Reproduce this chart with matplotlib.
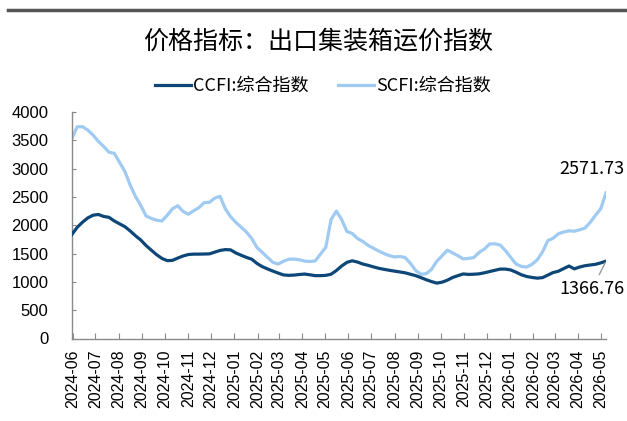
import numpy as np
import matplotlib
matplotlib.use("Agg")
import matplotlib.pyplot as plt
import matplotlib.dates as mdates
from matplotlib.lines import Line2D

plt.rcParams["font.family"] = ["Noto Sans CJK SC", "DejaVu Sans"]

title = "价格指标：出口集装箱运价指数"
series_names = ["CCFI:综合指数", "SCFI:综合指数"]

# weekly readings, 2024-05-31 .. 2026-05-08
dates = np.datetime64("2024-05-31") + np.arange(102) * np.timedelta64(7, "D")

ccfi = [
    1840, 1965, 2055, 2130, 2178, 2190, 2155, 2140, 2075, 2025,
    1975, 1900, 1815, 1740, 1642, 1560, 1480, 1415, 1375, 1380,
    1420, 1457, 1483, 1490, 1490, 1492, 1495, 1525, 1555, 1570,
    1565, 1510, 1470, 1432, 1400, 1325, 1268, 1228, 1190, 1155,
    1123, 1115, 1120, 1130, 1138, 1125, 1110, 1110, 1115, 1135,
    1200, 1280, 1345, 1372, 1350, 1315, 1292, 1265, 1240, 1222,
    1205, 1190, 1175, 1160, 1135, 1110, 1075, 1038, 1005, 978,
    995, 1030, 1078, 1110, 1140, 1132, 1135, 1142, 1160, 1183,
    1205, 1226, 1226, 1210, 1170, 1125, 1095, 1078, 1066, 1075,
    1120, 1165, 1188, 1235, 1280, 1230, 1262, 1285, 1298, 1310,
    1335, 1366.76,
]

scfi = [
    3540, 3740, 3740, 3680, 3590, 3480, 3390, 3290, 3270, 3110,
    2950, 2710, 2510, 2350, 2165, 2120, 2090, 2075, 2175, 2290,
    2345, 2245, 2195, 2255, 2310, 2400, 2405, 2480, 2510, 2290,
    2150, 2050, 1965, 1880, 1765, 1605, 1520, 1430, 1345, 1315,
    1365, 1400, 1403, 1390, 1368, 1360, 1370, 1490, 1610, 2100,
    2250, 2100, 1890, 1855, 1765, 1715, 1645, 1595, 1545, 1500,
    1465, 1440, 1449, 1430, 1330, 1200, 1135, 1145, 1220, 1365,
    1460, 1560, 1510, 1462, 1405, 1415, 1430, 1520, 1580, 1670,
    1672, 1650, 1550, 1430, 1315, 1272, 1262, 1310, 1390, 1530,
    1730, 1770, 1850, 1880, 1902, 1895, 1920, 1948, 2050, 2175,
    2290, 2571.73,
]

y_ticks = np.arange(0, 4001, 500)

dark = "#0d4777"
light = "#9fcaf2"
axis_gray = "#8a8a8a"

fig = plt.figure(figsize=(6.27, 4.21), dpi=100)
ax = fig.add_axes([72 / 627, 82.5 / 421, 534 / 627, 226.5 / 421])

ax.plot(dates, ccfi, color=dark, lw=2.3, label=series_names[0], zorder=3)
ax.plot(dates, scfi, color=light, lw=2.3, label=series_names[1], zorder=2)

ax.set_xlim(dates[0], dates[-1])
ax.set_ylim(0, 4000)
ax.set_yticks(y_ticks)
ax.xaxis.set_major_locator(mdates.MonthLocator())
ax.xaxis.set_major_formatter(mdates.DateFormatter("%Y-%m"))

for s in ["top", "right"]:
    ax.spines[s].set_visible(False)
for s in ["left", "bottom"]:
    ax.spines[s].set_color(axis_gray)
    ax.spines[s].set_linewidth(1.0)

ax.tick_params(axis="y", direction="in", length=3, color=axis_gray, pad=17,
               labelsize=12)
ax.tick_params(axis="x", direction="in", length=4, color=axis_gray, pad=8,
               labelsize=11.5, labelrotation=90)
for lbl in ax.get_xticklabels() + ax.get_yticklabels():
    lbl.set_family(["Liberation Sans", "DejaVu Sans"])

ax.annotate(f"{scfi[-1]:.2f}", xy=(dates[-1], scfi[-1]), xytext=(-10, 17),
            textcoords="offset points", ha="center", va="center", fontsize=13)
ax.annotate(f"{ccfi[-1]:.2f}", xy=(dates[-1], ccfi[-1]), xytext=(-10, -20),
            textcoords="offset points", ha="center", va="center", fontsize=13,
            arrowprops=dict(arrowstyle="-", color="#999999", lw=1.0,
                            shrinkA=2, shrinkB=1))

fig.add_artist(Line2D([8 / 627, 1.0], [1 - 10 / 421] * 2,
                      transform=fig.transFigure, color="#555555", lw=2.5))
fig.text(0.507, 1 - 42 / 421, title, ha="center", va="center", fontsize=18)
fig.legend(loc="center", bbox_to_anchor=(0.515, 1 - 86 / 421), ncol=2,
           frameon=False, fontsize=13, handlelength=2.0, handletextpad=0.15,
           columnspacing=1.6)

fig.savefig("out.png", dpi=100)
